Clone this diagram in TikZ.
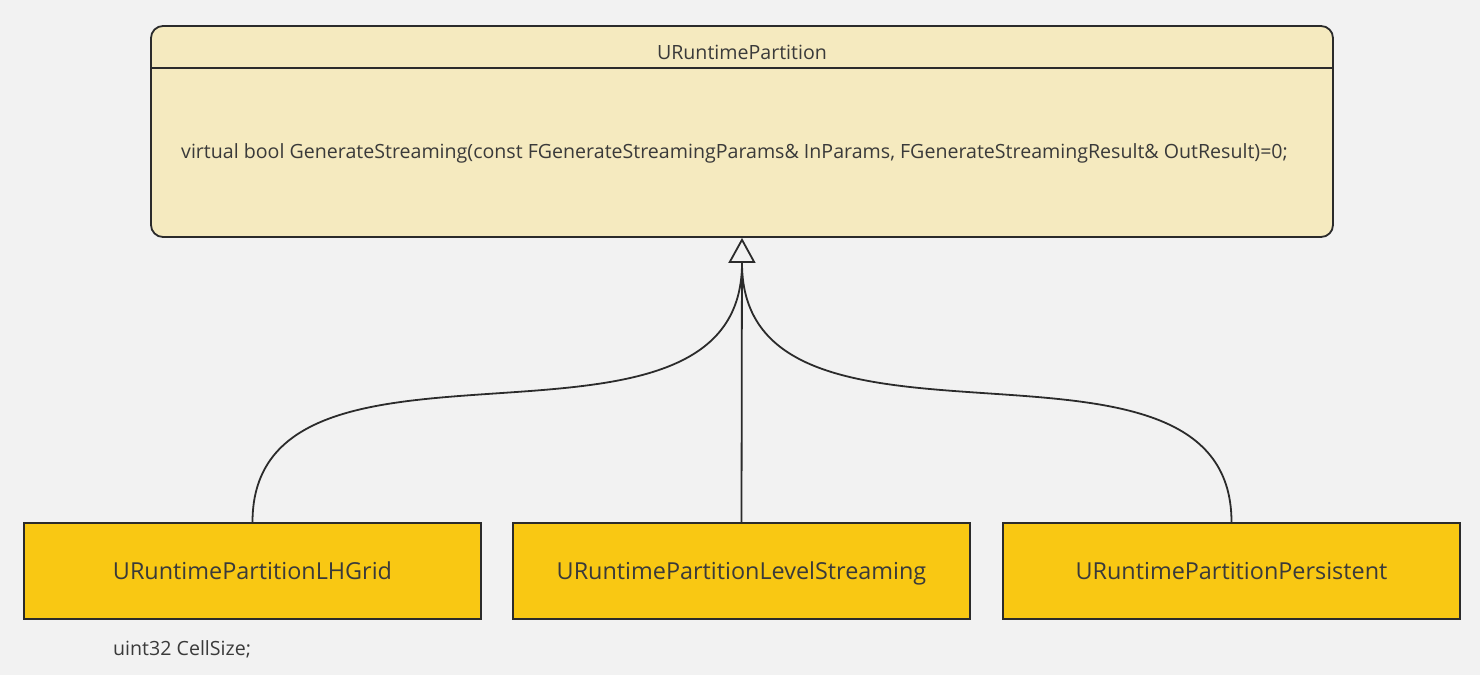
\documentclass[tikz,border=0pt]{standalone}
\usepackage{fontspec}
\setmainfont{Open Sans}
\usepackage{tikz}
\usetikzlibrary{arrows.meta,positioning}
\definecolor{canvas}{HTML}{F2F2F2}
\definecolor{basefill}{HTML}{F5EABF}
\definecolor{childfill}{HTML}{F9C813}
\definecolor{inkline}{HTML}{2B2B2B}
\definecolor{inktext}{HTML}{3A3A3A}
\newcommand{\fsz}[1]{\fontsize{#1}{#1}\selectfont}

\begin{document}
\begin{tikzpicture}[x=1pt,y=-1pt,
  classbox/.style={rectangle,draw=inkline,line width=1.8pt,fill=basefill,rounded corners=12pt,
    minimum width=1182pt,minimum height=211pt,inner sep=0pt},
  childbox/.style={rectangle,draw=inkline,line width=1.8pt,fill=childfill,
    minimum width=457pt,minimum height=96pt,inner sep=0pt,text=inktext,font=\fsz{23.4},
    text height=17pt,text depth=0pt},
  plain/.style={inner sep=0pt,text=inktext,font=\fsz{19.6}},
  link/.style={draw=inkline,line width=1.8pt}]
\useasboundingbox[fill=canvas] (0,0) rectangle (1480,675);
% base class
\node (part) [classbox] at (742,131.5) {};
\draw[inkline,line width=1.8pt] (151,68) -- (1333,68);
\node (title) [plain] at (742,52) {URuntimePartition};
\node (method) [plain,anchor=west] at (181,153) {virtual bool GenerateStreaming(const FGenerateStreamingParams\& InParams, FGenerateStreamingResult\& OutResult)=0;};
% derived classes
\node (grid) [childbox] at (252.5,571) {URuntimePartitionLHGrid};
\node (level) [childbox] at (741.5,571) {URuntimePartitionLevelStreaming};
\node (persist) [childbox] at (1231.5,571) {URuntimePartitionPersistent};
\node (cellsize) [plain,anchor=west] at (113,649) {uint32 CellSize;};
%
\coordinate (base) at (742,263);
\draw[link,-{Triangle[open,length=25pt,width=27pt,line width=1.8pt]}] (level.north) -- (part.south);
\draw[link] (grid.north) .. controls +(0,-225) and +(0,227) .. (base);
\draw[link] (persist.north) .. controls +(0,-225) and +(0,227) .. (base);
\end{tikzpicture}
\end{document}
